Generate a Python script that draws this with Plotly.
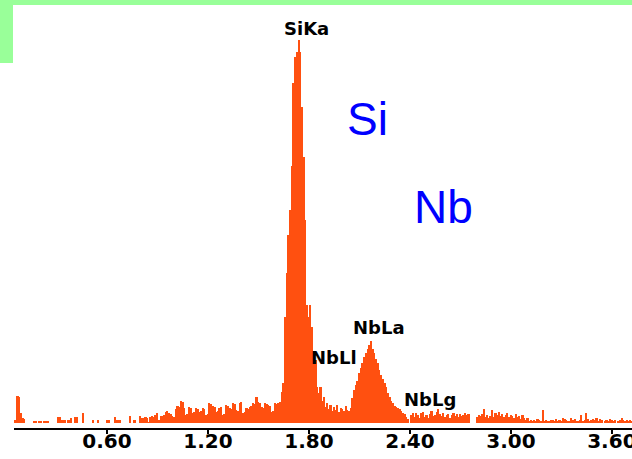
import numpy as np
import plotly.graph_objects as go

# EDS spectrum: 10 eV channels starting at 0.05 keV
energy_start = 0.05
channel_width = 0.01
counts = [
    3, 3, 27, 26, 10, 5, 4, 0, 0, 0,            # 0.05-0.14
    0, 0, 2, 2, 0, 2, 2, 0, 2, 2,               # 0.15-0.24
    2, 0, 0, 0, 0, 0, 6, 6, 3, 3,               # 0.25-0.34
    3, 0, 3, 3, 5, 0, 6, 6, 0, 0,               # 0.35-0.44
    0, 10, 0, 0, 0, 0, 0, 3, 0, 0,              # 0.45-0.54
    3, 0, 0, 0, 0, 3, 3, 0, 0, 0,               # 0.55-0.64
    6, 3, 3, 3, 0, 0, 0, 0, 0, 7,               # 0.65-0.74
    0, 3, 3, 0, 0, 7, 5, 5, 6, 5,               # 0.75-0.84
    1, 6, 7, 6, 8, 10, 3, 7, 7, 8,              # 0.85-0.94
    11, 12, 10, 9, 7, 6, 14, 17, 16, 22,        # 0.95-1.04
    21, 15, 8, 9, 16, 15, 10, 11, 15, 14,       # 1.05-1.14
    11, 12, 15, 14, 8, 9, 20, 19, 17, 16,       # 1.15-1.24
    11, 12, 15, 16, 8, 9, 18, 17, 15, 14,       # 1.25-1.34
    20, 19, 13, 12, 20, 21, 10, 11, 15, 14,     # 1.35-1.44
    16, 17, 20, 19, 26, 21, 20, 16, 15, 20,     # 1.45-1.54
    19, 18, 17, 11, 12, 20, 19, 20, 21, 31,     # 1.55-1.64
    40, 106, 150, 188, 213, 257, 340, 366, 371, 383,  # 1.65-1.74
    371, 316, 266, 203, 118, 106, 118, 96, 64, 63,    # 1.75-1.84
    36, 30, 36, 22, 26, 16, 20, 14, 18, 12,     # 1.85-1.94
    16, 13, 18, 11, 15, 14, 12, 17, 13, 12,     # 1.95-2.04
    15, 25, 33, 38, 42, 50, 55, 60, 66, 70,     # 2.05-2.14
    74, 78, 82, 74, 70, 64, 60, 53, 48, 44,     # 2.15-2.24
    40, 36, 30, 26, 22, 20, 17, 16, 15, 14,     # 2.25-2.34
    12, 10, 9, 6, 4, 0, 8, 10, 6, 10,           # 2.35-2.44
    8, 5, 10, 11, 6, 8, 5, 9, 12, 7,            # 2.45-2.54
    8, 11, 14, 9, 7, 10, 6, 8, 9, 5,            # 2.55-2.64
    8, 10, 7, 9, 6, 9, 7, 8, 10, 8,             # 2.65-2.74
    9, 0, 0, 0, 0, 6, 8, 7, 9, 14,              # 2.75-2.84
    6, 8, 5, 7, 13, 6, 10, 8, 11, 7,            # 2.85-2.94
    9, 6, 8, 10, 6, 8, 7, 5, 9, 6,              # 2.95-3.04
    7, 4, 8, 5, 3, 5, 2, 3, 2, 3,               # 3.05-3.14
    2, 4, 3, 2, 13, 2, 3, 2, 2, 3,              # 3.15-3.24
    3, 2, 4, 2, 3, 2, 5, 4, 3, 2,               # 3.25-3.34
    2, 5, 3, 4, 2, 2, 3, 8, 2, 3,               # 3.35-3.44
    10, 4, 2, 3, 4, 3, 5, 2, 4, 3,              # 3.45-3.54
    0, 2, 3, 2, 4, 3, 2, 3, 0, 2,               # 3.55-3.64
    3, 5, 3, 2, 3, 2, 3, 2,                     # 3.65-3.72
]
energies = np.round(energy_start + channel_width * np.arange(len(counts)), 3)

tick_values = [0.6, 1.2, 1.8, 2.4, 3.0, 3.6]
tick_labels = ["0.60", "1.20", "1.80", "2.40", "3.00", "3.60"]

# line markers: (text, energy, counts level)
line_labels = [
    ("SiKa", 1.788, 395),
    ("NbLa", 2.216, 96),
    ("NbLl", 1.949, 66),
    ("NbLg", 2.519, 24),
]
element_labels = [
    ("Si", 2.145, 304),
    ("Nb", 2.602, 216),
]

W, H = 632, 459
ML, MR, MT, MB = 14, 0, 10, 31
PW, PH = W - ML - MR, H - MT - MB
BAR_COLOR = "#FF5010"
FRAME_GREEN = "#99FF99"


def px_x(px):
    return (px - ML) / PW


def px_y(py):
    return (H - MB - py) / PH


fig = go.Figure(
    go.Bar(
        x=energies,
        y=counts,
        width=channel_width,
        marker=dict(color=BAR_COLOR, line=dict(width=0)),
        hoverinfo="x+y",
    )
)

annotations = []
for text, e, c in line_labels:
    annotations.append(dict(
        x=e, y=c, xref="x", yref="y", text=text, showarrow=False,
        font=dict(family="DejaVu Sans", size=18, color="black", weight="bold"),
    ))
for text, e, c in element_labels:
    annotations.append(dict(
        x=e, y=c, xref="x", yref="y", text=text, showarrow=False,
        font=dict(family="Liberation Sans, Arial", size=46, color="#0000FF"),
    ))

shapes = [
    # green frame: top band and left tab
    dict(type="rect", xref="paper", yref="paper",
         x0=px_x(0), x1=px_x(W + 2), y0=px_y(5), y1=px_y(-2),
         fillcolor=FRAME_GREEN, line=dict(width=0), layer="above"),
    dict(type="rect", xref="paper", yref="paper",
         x0=px_x(-2), x1=px_x(13), y0=px_y(63), y1=px_y(-2),
         fillcolor=FRAME_GREEN, line=dict(width=0), layer="above"),
]

fig.update_layout(
    width=W, height=H,
    margin=dict(l=ML, r=MR, t=MT, b=MB, pad=0, autoexpand=False),
    paper_bgcolor="white", plot_bgcolor="white",
    bargap=0, showlegend=False,
    annotations=annotations, shapes=shapes,
    xaxis=dict(
        range=[0.0475, 3.7196],
        tickvals=tick_values, ticktext=tick_labels,
        ticks="outside", ticklen=4, tickwidth=2, tickcolor="black",
        ticklabeloverflow="allow", ticklabelstandoff=-10, automargin=False,
        showline=True, linecolor="black", linewidth=2,
        showgrid=False, zeroline=False,
        tickfont=dict(family="DejaVu Sans", size=20, color="black", weight="bold"),
    ),
    yaxis=dict(range=[-5, 413], visible=False, showgrid=False, zeroline=False),
)

fig.write_html("out.html")
